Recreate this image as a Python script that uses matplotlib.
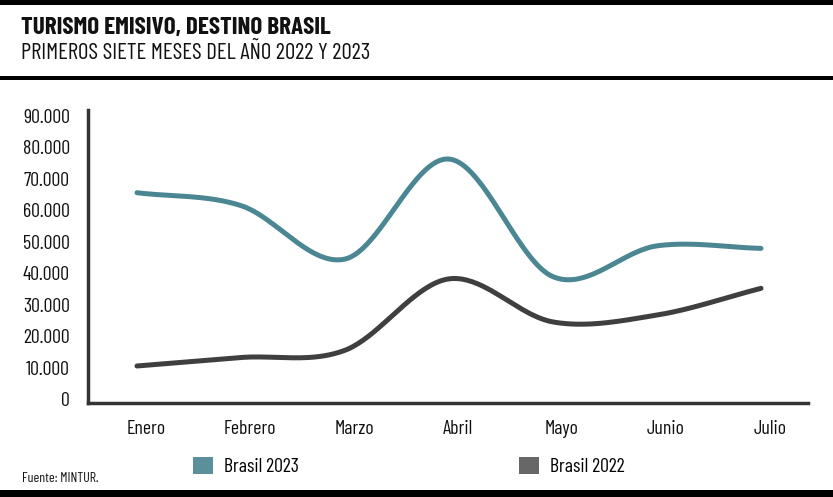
import numpy as np
import matplotlib
matplotlib.use('Agg')
import matplotlib.pyplot as plt
from matplotlib.patches import Rectangle, Patch
from matplotlib.transforms import ScaledTranslation

plt.rcParams['font.family'] = ['Barlow Condensed', 'Roboto Condensed', 'DejaVu Sans']

meses = ['Enero', 'Febrero', 'Marzo', 'Abril', 'Mayo', 'Junio', 'Julio']
brasil_2023 = [65600, 61500, 44500, 76300, 38900, 48700, 47900]
brasil_2022 = [10500, 13200, 15500, 38200, 24500, 26700, 35200]
yticks = [0, 10000, 20000, 30000, 40000, 50000, 60000, 70000, 80000, 90000]

c2023 = '#4b8693'
c2022 = '#3f3f3f'
c2023_leg = '#5a8f9c'
c2022_leg = '#676767'

W, H = 833, 497


def smooth(y, n=40):
    # cardinal (catmull-rom) spline through the points, just for the drawing
    y = np.asarray(y, dtype=float)
    x = np.arange(len(y), dtype=float)
    m = np.gradient(y)
    xs, ys = [], []
    for i in range(len(y) - 1):
        t = np.linspace(0, 1, n, endpoint=False)
        h00 = 2*t**3 - 3*t**2 + 1
        h10 = t**3 - 2*t**2 + t
        h01 = -2*t**3 + 3*t**2
        h11 = t**3 - t**2
        ys.append(h00*y[i] + h10*m[i] + h01*y[i+1] + h11*m[i+1])
        xs.append(x[i] + t)
    xs.append([x[-1]])
    ys.append([y[-1]])
    return np.concatenate(xs), np.concatenate(ys)


fig = plt.figure(figsize=(W/100, H/100), dpi=100)

# axes box in pixels: y axis at x=88, x axis at y=403
ax = fig.add_axes([88/W, 1-403/H, (808-88)/W, (403-110)/H])

x = np.arange(len(meses))
xs, ys = smooth(brasil_2023)
ax.plot(xs, ys, color=c2023, lw=3.6, solid_capstyle='round')
xs, ys = smooth(brasil_2022)
ax.plot(xs, ys, color=c2022, lw=3.6, solid_capstyle='round')

ax.set_xlim(-0.471, 6.452)
ax.set_ylim(-1270, 91900)

for s in ['top', 'right']:
    ax.spines[s].set_visible(False)
for s in ['left', 'bottom']:
    ax.spines[s].set_color('#333333')
    ax.spines[s].set_linewidth(2.5)

ax.set_yticks(yticks)
ax.set_yticklabels([f'{v:,}'.replace(',', '.') for v in yticks])
ax.set_xticks(x)
ax.set_xticklabels(meses)
ax.tick_params(axis='both', length=0, labelsize=14.3, colors='#111111')
ax.tick_params(axis='y', pad=13)
ax.tick_params(axis='x', pad=12)
off = ScaledTranslation(9/100, 0, fig.dpi_scale_trans)
for lab in ax.get_xticklabels():
    lab.set_transform(lab.get_transform() + off)

# titles
fig.text(21/W, 1-28.5/H, 'TURISMO EMISIVO, DESTINO BRASIL', fontsize=18.1,
         fontweight='bold', va='center', ha='left', color='#111111')
fig.text(21/W, 1-53.5/H, 'PRIMEROS SIETE MESES DEL AÑO 2022 Y 2023', fontsize=16.5,
         va='center', ha='left', color='#111111')

# black bars
fig.add_artist(Rectangle((0, 1-5/H), 1, 5/H, transform=fig.transFigure,
                         color='black', lw=0))
fig.add_artist(Rectangle((0, 1-80/H), 1, 4/H, transform=fig.transFigure,
                         color='black', lw=0))
fig.add_artist(Rectangle((0, 0), 1, 7/H, transform=fig.transFigure,
                         color='black', lw=0))

# legend
for label, col, x0 in [('Brasil 2023', c2023_leg, 193), ('Brasil 2022', c2022_leg, 519)]:
    fig.legend(handles=[Patch(facecolor=col, edgecolor='none', label=label)],
               loc='center left', bbox_to_anchor=(x0/W, 1-466.5/H),
               frameon=False, fontsize=14.3, handlelength=1.01, handleheight=0.96,
               handletextpad=0.56, borderpad=0, borderaxespad=0)

fig.text(22/W, 1-478/H, 'Fuente: MINTUR.', fontsize=10, va='center', ha='left',
         color='#111111')

fig.savefig('out.png', dpi=100)
